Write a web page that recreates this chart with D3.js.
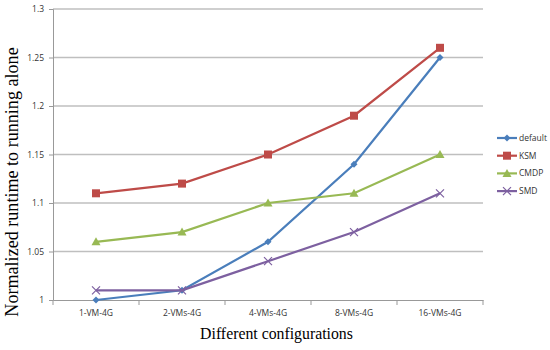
<!DOCTYPE html>
<html><head><meta charset="utf-8">
<script src="https://cdn.jsdelivr.net/npm/d3@7"></script>
<style>body{margin:0;background:#fff}</style>
</head><body>
<svg id="c" width="550" height="350"></svg>
<script>
const categories = ["1-VM-4G","2-VMs-4G","4-VMs-4G","8-VMs-4G","16-VMs-4G"];
const seriesNames = ["default","KSM","CMDP","SMD"];
const defaultVals = [1.00,1.01,1.06,1.14,1.25];
const ksmVals = [1.11,1.12,1.15,1.19,1.26];
const cmdpVals = [1.06,1.07,1.10,1.11,1.15];
const smdVals = [1.01,1.01,1.04,1.07,1.11];
const yTicks = [1,1.05,1.1,1.15,1.2,1.25,1.3];
const colors = ["#4A7EBB","#BE4B48","#98B954","#7D60A0"];
const symbols = ["diamond","square","triangle","cross"];

const series = [defaultVals, ksmVals, cmdpVals, smdVals];
const svg = d3.select("#c");
const L=53, R=483, T=9, B=300;
const x = d3.scaleBand().domain(categories).range([L,R]);
const y = d3.scaleLinear().domain([1,1.3]).range([B,T]);

// gridlines
svg.append("g").selectAll("line").data(yTicks.slice(1)).join("line")
  .attr("x1",L).attr("x2",R).attr("y1",d=>y(d)).attr("y2",d=>y(d))
  .attr("stroke","#BFBFBF").attr("stroke-width",1.3);

// y axis
const yAx = svg.append("g").attr("transform",`translate(${L},0)`)
  .call(d3.axisLeft(y).tickValues(yTicks).tickSize(4).tickPadding(5).tickFormat(d=>d3.format("")(+d.toFixed(2))));
yAx.select(".domain").attr("stroke","#999");
yAx.selectAll(".tick line").attr("stroke","#999");
yAx.selectAll("text").attr("font-family","Open Sans, sans-serif").attr("font-size",8.5).attr("fill","#333");

// x axis
const xAx = svg.append("g").attr("transform",`translate(0,${B})`)
  .call(d3.axisBottom(x).tickSize(0).tickPadding(10));
xAx.select(".domain").attr("stroke","#999");
xAx.selectAll("text").attr("font-family","Open Sans, sans-serif").attr("font-size",8.5).attr("fill","#333");
// category boundary ticks
const bounds = categories.map(c=>x(c)).concat([R]);
svg.append("g").selectAll("line").data(bounds).join("line")
  .attr("x1",d=>d).attr("x2",d=>d).attr("y1",B).attr("y2",B+5).attr("stroke","#999");

const cx = c => x(c)+x.bandwidth()/2;
const line = d3.line().x((d,i)=>cx(categories[i])).y(d=>y(d));

function drawSymbol(g, type, color, px, py){
  if(type==="diamond"){
    g.append("path").attr("d",`M${px},${py-3.5}L${px+3.5},${py}L${px},${py+3.5}L${px-3.5},${py}Z`).attr("fill",color);
  } else if(type==="square"){
    g.append("rect").attr("x",px-4).attr("y",py-4).attr("width",8).attr("height",8).attr("fill",color);
  } else if(type==="triangle"){
    g.append("path").attr("d",`M${px},${py-4.5}L${px+4.5},${py+3.5}L${px-4.5},${py+3.5}Z`).attr("fill",color);
  } else {
    g.append("path").attr("d",`M${px-4},${py-4}L${px+4},${py+4}M${px-4},${py+4}L${px+4},${py-4}`).attr("stroke",color).attr("stroke-width",1.2);
  }
}

series.forEach((vals,si)=>{
  const g = svg.append("g");
  g.append("path").datum(vals).attr("d",line).attr("fill","none")
    .attr("stroke",colors[si]).attr("stroke-width",2.2);
  vals.forEach((v,i)=>drawSymbol(g,symbols[si],colors[si],cx(categories[i]),y(v)));
});

// legend
const lg = svg.append("g");
seriesNames.forEach((n,i)=>{
  const ly = 138 + i*17.7;
  lg.append("line").attr("x1",497).attr("x2",517).attr("y1",ly).attr("y2",ly)
    .attr("stroke",colors[i]).attr("stroke-width",2.2);
  drawSymbol(lg,symbols[i],colors[i],507,ly);
  lg.append("text").attr("x",519).attr("y",ly+3).text(n)
    .attr("font-family","Open Sans, sans-serif").attr("font-size",8.5).attr("fill","#333");
});

// titles
svg.append("text").attr("x",276.5).attr("y",339).attr("text-anchor","middle")
  .attr("font-family","Liberation Serif, serif").attr("font-size",15.8).attr("fill","#000")
  .text("Different configurations");
svg.append("text").attr("transform","translate(18,182) rotate(-90)").attr("text-anchor","middle")
  .attr("font-family","Liberation Serif, serif").attr("font-size",18.1).attr("fill","#000")
  .text("Normalized runtime to running alone");
</script>
</body></html>
